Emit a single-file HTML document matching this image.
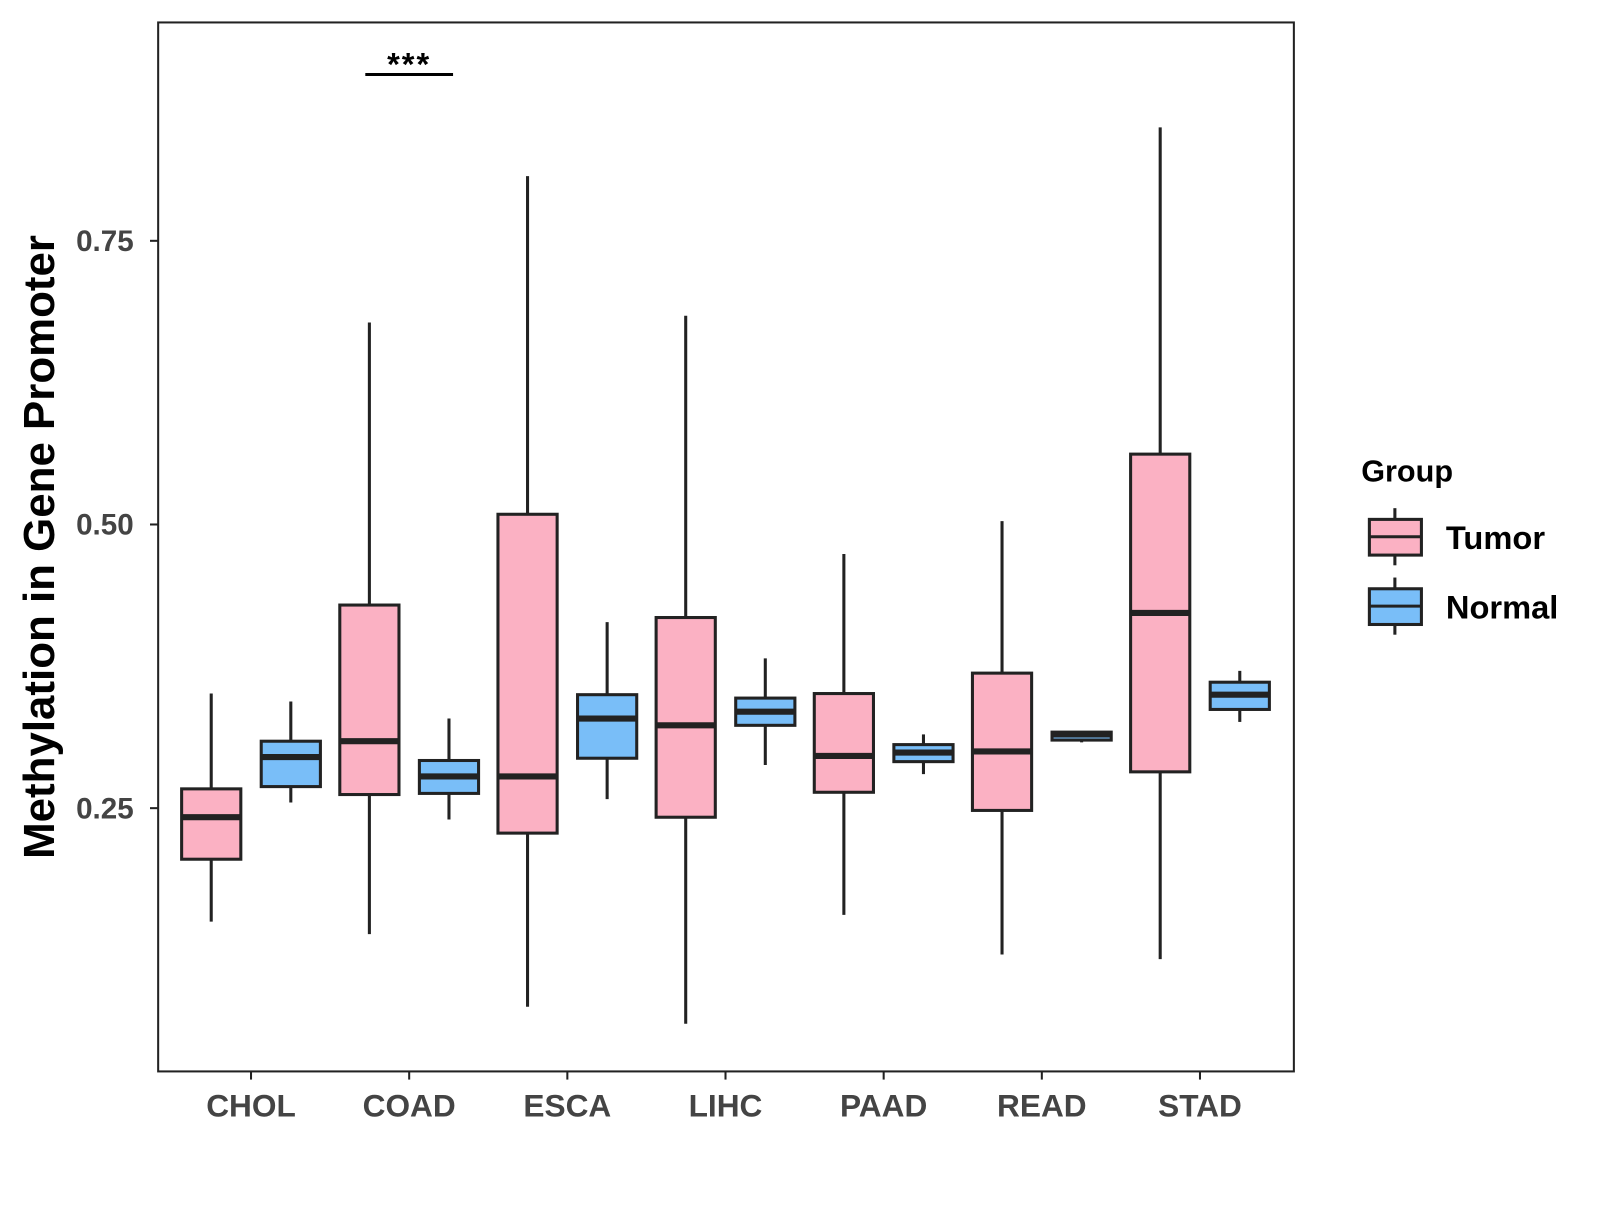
<!DOCTYPE html>
<html><head><meta charset="utf-8"><style>
body{margin:0;background:#fff;}
svg text{font-family:"Liberation Sans",Arial,sans-serif;font-weight:bold;}
</style></head><body>
<svg id="chart" width="1600" height="1200" xmlns="http://www.w3.org/2000/svg">
<g transform="scale(1.0204)">
<rect x="155" y="22" width="1113" height="1028" fill="#fff" stroke="#222" stroke-width="2"/>
<g id="boxes"></g>
<g id="axes"></g>
<line x1="358" y1="73" x2="444" y2="73" stroke="#000" stroke-width="3"/>
<text x="401" y="74" font-size="32" letter-spacing="2" text-anchor="middle">***</text>
<text transform="translate(53,536) rotate(-90)" font-size="43" text-anchor="middle" fill="#000">Methylation in Gene Promoter</text>
<g>
<text x="1334" y="472" font-size="30" fill="#000">Group</text>
<g>
<line x1="1367" y1="498" x2="1367" y2="554" stroke="#222" stroke-width="3"/>
<rect x="1342" y="509" width="51" height="35" fill="#FBB1C3" stroke="#222" stroke-width="3"/>
<line x1="1342" y1="526" x2="1393" y2="526" stroke="#222" stroke-width="3"/>
<text x="1417" y="538" font-size="32" fill="#000">Tumor</text></g>
<g>
<line x1="1367" y1="566" x2="1367" y2="622" stroke="#222" stroke-width="3"/>
<rect x="1342" y="577" width="51" height="35" fill="#79BEF8" stroke="#222" stroke-width="3"/>
<line x1="1342" y1="594" x2="1393" y2="594" stroke="#222" stroke-width="3"/>
<text x="1417" y="606" font-size="32" fill="#000">Normal</text></g>
</g>
</g>
</svg>
<script>
const categories=["CHOL","COAD","ESCA","LIHC","PAAD","READ","STAD"];
const groups=["Tumor","Normal"];
const tumorStats=[[0.150,0.205,0.242,0.267,0.351],[0.139,0.262,0.309,0.429,0.678],[0.075,0.228,0.278,0.509,0.807],[0.060,0.242,0.323,0.418,0.684],[0.156,0.264,0.296,0.351,0.474],[0.121,0.248,0.300,0.369,0.503],[0.117,0.282,0.422,0.562,0.850]];
const normalStats=[[0.255,0.269,0.295,0.309,0.344],[0.240,0.263,0.278,0.292,0.329],[0.258,0.294,0.329,0.350,0.414],[0.288,0.323,0.335,0.347,0.382],[0.280,0.291,0.299,0.306,0.315],[0.308,0.310,0.315,0.317,0.318],[0.326,0.337,0.350,0.361,0.371]];
const yTicks=[0.25,0.50,0.75];
const yTickLabels=["0.25","0.50","0.75"];
const NS="http://www.w3.org/2000/svg";
function y(v){return 792-(v-0.25)*1112;}
function x(i){return 246+i*155;}
function mk(t,a,p){const e=document.createElementNS(NS,t);for(const k in a)e.setAttribute(k,a[k]);p.appendChild(e);return e;}
const bg=document.getElementById('boxes'),ag=document.getElementById('axes');
categories.forEach((c,i)=>{
 [[tumorStats,-39,"#FBB1C3","tumor"],[normalStats,39,"#79BEF8","normal"]].forEach(([S,off,col,nm])=>{
  const s=S[i],cx=x(i)+off;
  const g=mk('g',{},bg);
  
  
  mk('line',{x1:cx,x2:cx,y1:y(s[4]),y2:y(s[0]),stroke:'#222','stroke-width':3},g);
  mk('rect',{x:cx-29,y:y(s[3]),width:58,height:y(s[1])-y(s[3]),fill:col,stroke:'#222','stroke-width':3},g);
  mk('line',{x1:cx-29,x2:cx+29,y1:y(s[2]),y2:y(s[2]),stroke:'#222','stroke-width':6},g);
 });
 mk('line',{x1:x(i),x2:x(i),y1:1050,y2:1058,stroke:'#222','stroke-width':2},ag);
 const t=mk('text',{x:x(i),y:1094,'font-size':31,'text-anchor':'middle',fill:'#444'},ag);t.textContent=c;
 
 
});
yTicks.forEach((v,j)=>{
 mk('line',{x1:147,x2:155,y1:y(v),y2:y(v),stroke:'#222','stroke-width':2},ag);
 const t=mk('text',{x:131,y:y(v)+10,'font-size':29,'text-anchor':'end',fill:'#444'},ag);t.textContent=yTickLabels[j];
 
 
});
</script>
</body></html>
